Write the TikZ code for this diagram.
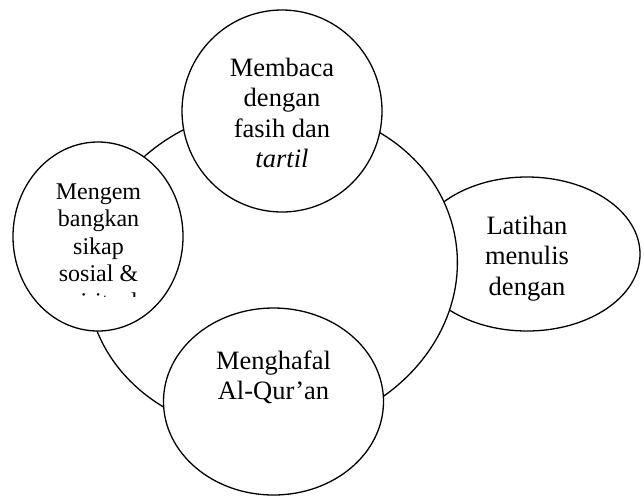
\documentclass[tikz,border=0pt]{standalone}
\usepackage{fontspec}
\setmainfont{Liberation Serif}
\usetikzlibrary{shapes.geometric}
\begin{document}
\begin{tikzpicture}[x=1pt,y=-1pt,
  shapebox/.style={ellipse, draw, fill=white, line width=1.3pt, inner sep=0pt, outer sep=0pt},
  bigtext/.style={anchor=north, align=center, inner sep=0pt, font=\fontsize{26.5}{30.5}\selectfont},
  smalltext/.style={anchor=north, align=center, inner sep=0pt, font=\fontsize{24}{27.5}\selectfont}]
\useasboundingbox (0,0) rectangle (644,496);
% back shape on the right
\node[shapebox, minimum width=226pt, minimum height=154pt] (latihan) at (527,254) {};
% central shape
\node[shapebox, minimum width=372pt, minimum height=326pt, rotate=10] (hub) at (272,270) {};
% front shapes
\node[shapebox, minimum width=200pt, minimum height=202pt] (membaca) at (282,111) {};
\node[shapebox, minimum width=170pt, minimum height=189pt] (sikap) at (98,236.5) {};
\node[shapebox, minimum width=220pt, minimum height=187pt] (hafal) at (273.5,401.5) {};
% texts
\node[bigtext] (tmembaca) at (282,56) {\rule{0pt}{20pt}Membaca\\dengan\\fasih dan\\\textit{tartil}};
\node[bigtext] (tlatihan) at (527,214) {\rule{0pt}{20pt}Latihan\\menulis\\dengan};
\node[bigtext] (thafal) at (273.5,349) {\rule{0pt}{20pt}Menghafal\\Al-Qur’an};
\begin{scope}
  \clip (0,0) rectangle (200,296);
  \node[smalltext] (tsikap) at (98.5,179) {\rule{0pt}{20pt}Mengem\\bangkan\\sikap\\sosial \&\\spiritual};
\end{scope}
\end{tikzpicture}
\end{document}
